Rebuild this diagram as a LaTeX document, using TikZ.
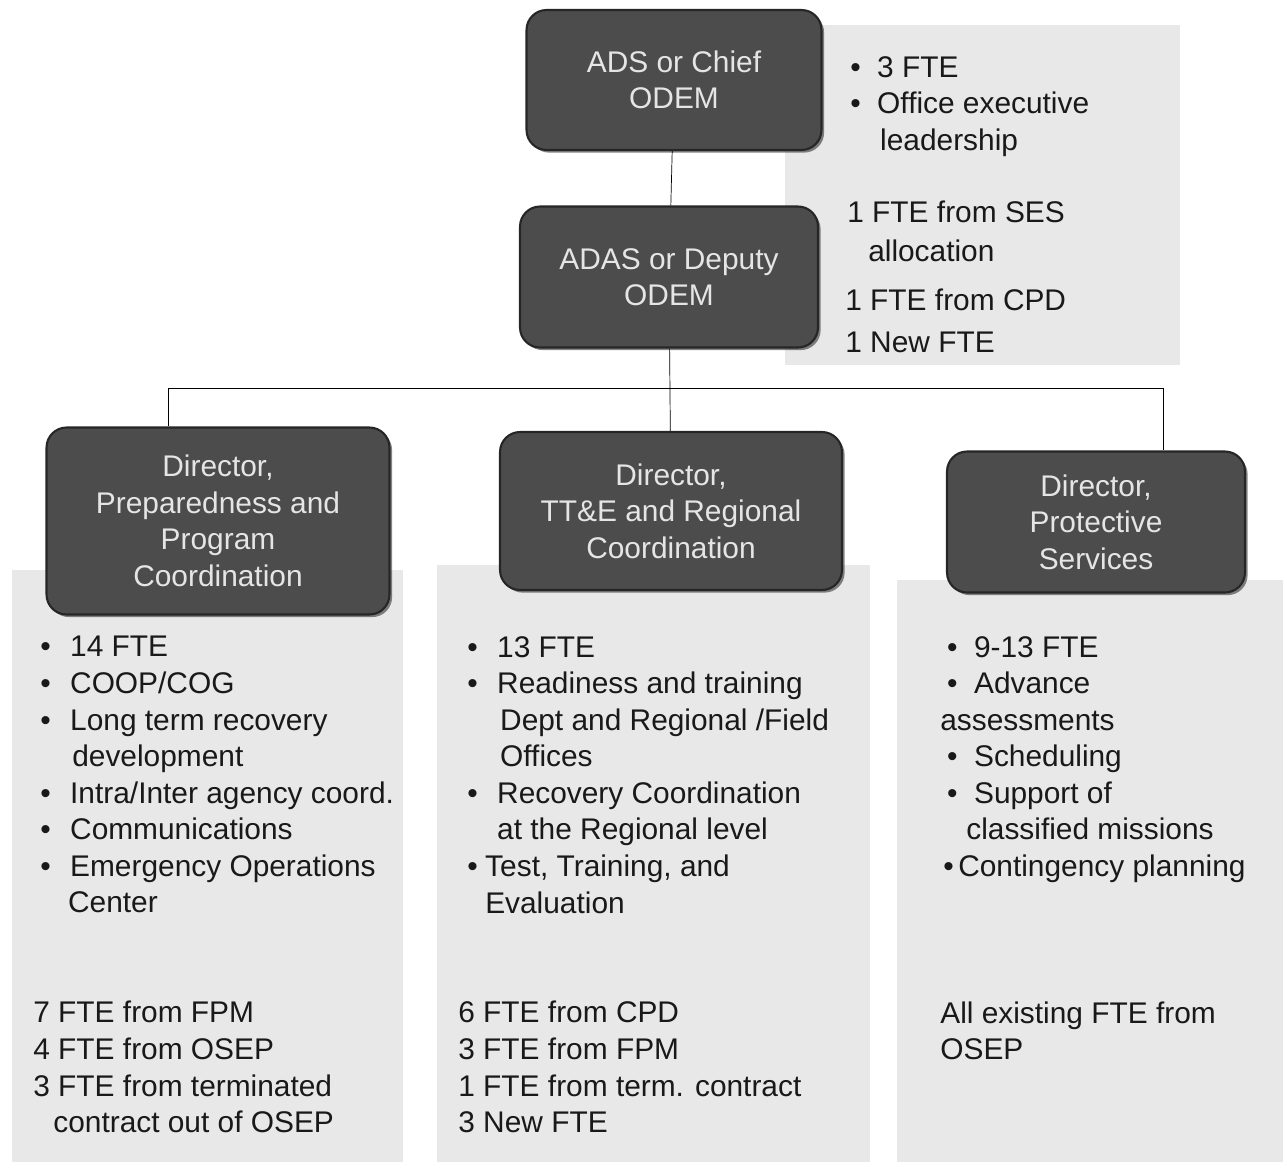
\documentclass[tikz,border=0pt]{standalone}
\usepackage{fontspec}
\setmainfont{Liberation Sans}
\usetikzlibrary{positioning,shadows}
\newcommand{\bl}[1][1em]{\makebox[#1][l]{\textbullet}}

\begin{document}
\begin{tikzpicture}[x=0.02cm,y=-0.02cm,
  every node/.style={font=\fontsize{17}{20.8}\selectfont},
  unit/.style={draw=black!85, line width=1.2pt, fill=black!70, rounded corners=0.4cm,
    text=black!10, align=center, inner sep=0pt,
    drop shadow={shadow xshift=1.5pt, shadow yshift=-1.5pt, fill=black!80, opacity=0.6}},
  notes/.style={anchor=north west, inner sep=0pt, align=left, text=black!90},
  panel/.style={fill=black!9}]
\useasboundingbox (0,0) rectangle (1287,1167);

% grey backdrops
\fill[panel] (785,25) rectangle (1180,365);
\fill[panel] (12,570) rectangle (403,1162);
\fill[panel] (437,565) rectangle (870,1162);
\fill[panel] (897,580) rectangle (1283,1162);

% offices
\node[unit, minimum width=5.9cm, minimum height=2.8cm] (chief) at (674,80) {ADS or Chief\\ODEM};
\node[unit, minimum width=5.96cm, minimum height=2.82cm] (deputy) at (669,277) {ADAS or Deputy\\ODEM};
\node[unit, minimum width=6.86cm, minimum height=3.74cm] (prep) at (218,521) {Director,\\Preparedness and\\Program\\Coordination};
\node[unit, minimum width=6.84cm, minimum height=3.16cm] (ttec) at (671,511) {Director,\\TT\&E and Regional\\Coordination};
\node[unit, minimum width=5.96cm, minimum height=2.82cm] (prot) at (1096,522) {Director,\\Protective\\Services};

% connectors
\coordinate (busl) at (168,388);
\coordinate (busr) at (1163,388);
\draw (chief) -- (deputy);
\draw (deputy) -- (ttec);
\draw (busl |- prep.north) -- (busl) -- (busr) -- (busr |- prot.north);

% staffing notes
\node[notes] (execnote) at (850,56) {\bl[0.9em]3 FTE\\ \bl[0.9em]Office executive\\ \hspace*{1em}leadership};
\node[notes] (sesnote) at (847,201) {1 FTE from SES\\[1pt] \hspace*{0.7em}allocation};
\node[notes] (cpdnote) at (845,289) {1 FTE from CPD\\[3pt] 1 New FTE};

\node[notes] (prepnote) at (40,636) {\bl 14 FTE\\ \bl COOP/COG\\ \bl Long term recovery\\
  \hspace*{1.07em}development\\ \bl Intra/Inter agency coord.\\ \bl Communications\\
  \bl Emergency Operations\\ \hspace*{0.93em}Center};
\node[notes] (prepfte) at (33,1001) {7 FTE from FPM\\ 4 FTE from OSEP\\ 3 FTE from terminated\\
  \hspace*{0.67em}contract out of OSEP};

\node[notes] (ttecnote) at (467,636) {\bl 13 FTE\\ \bl Readiness and training\\
  \hspace*{1.1em}Dept and Regional /Field\\ \hspace*{1.1em}Offices\\ \bl Recovery Coordination\\
  \hspace*{1em}at the Regional level\\ \bl[0.6em]Test, Training, and\\ \hspace*{0.6em}Evaluation};
\node[notes] (ttecfte) at (458,1001) {6 FTE from CPD\\ 3 FTE from FPM\\ 1 FTE from term. contract\\ 3 New FTE};

\node[notes] (protnote) at (940,636) {\hspace*{0.23em}\bl[0.9em]9-13 FTE\\
  \hspace*{0.23em}\bl[0.9em]Advance\\ assessments\\ \hspace*{0.23em}\bl[0.9em]Scheduling\\
  \hspace*{0.23em}\bl[0.9em]Support of\\ \hspace*{0.87em}classified missions\\
  \hspace*{0.1em}\bl[0.5em]Contingency planning};
\node[notes] (protfte) at (940,1001) {All existing FTE from\\ OSEP};
\end{tikzpicture}
\end{document}
